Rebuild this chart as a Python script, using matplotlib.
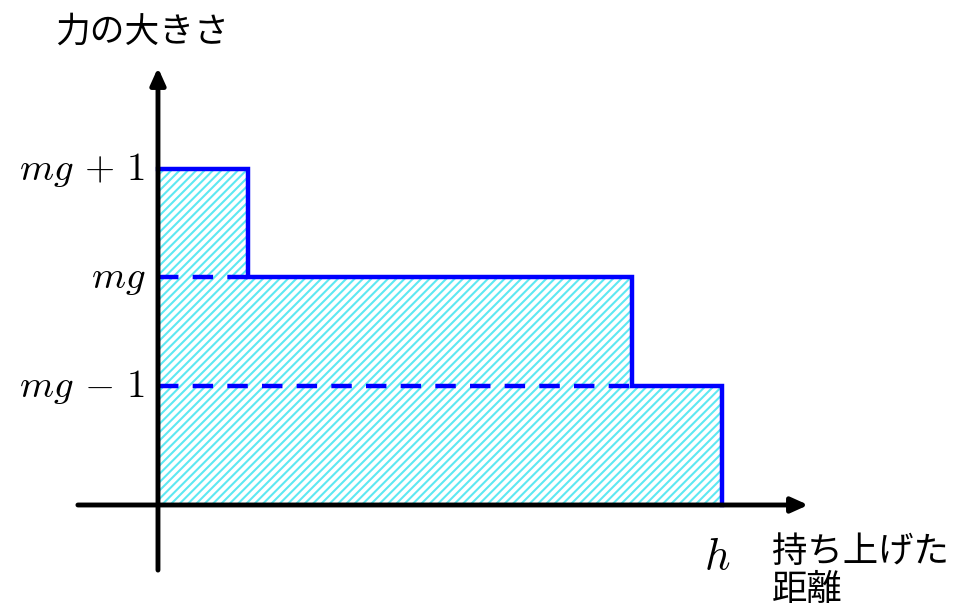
import matplotlib
matplotlib.use("Agg")
import matplotlib.pyplot as plt

plt.rcParams['font.family'] = ['Noto Sans CJK JP', 'DejaVu Sans']
plt.rcParams['mathtext.fontset'] = 'cm'
plt.rcParams['hatch.linewidth'] = 1.5
plt.rcParams['hatch.color'] = '#5ee8f2'

# step boundaries along the distance axis (h = 1)
x_edges = [0.0, 0.16, 0.84, 1.0]
# force levels of each segment (mg = 2.1, step of 1)
force_levels = [3.1, 2.1, 1.1]
level_labels = [r'$mg\,+\,1$', r'$mg$', r'$mg\,-\,1$']
h_value = 1.0

fig = plt.figure(figsize=(9.6, 6.14), dpi=100)
ax = fig.add_axes([0, 0, 1, 1])
ax.set_xlim(-0.2801, 1.4220)
ax.set_ylim(-1.0046, 4.654)
ax.axis('off')

# hatched area under the step curve
for i, lvl in enumerate(force_levels):
    ax.fill_between([x_edges[i], x_edges[i + 1]], 0, lvl,
                    facecolor='white', edgecolor='#5ee8f2', hatch='////',
                    linewidth=0, zorder=1)

# step outline
xs = [x_edges[0]]
ys = [force_levels[0]]
for i, lvl in enumerate(force_levels):
    xs += [x_edges[i + 1]]
    ys += [lvl]
    if i + 1 < len(force_levels):
        xs += [x_edges[i + 1]]
        ys += [force_levels[i + 1]]
xs += [x_edges[-1]]
ys += [0]
ax.plot(xs, ys, color='#0000ff', lw=3.2, solid_joinstyle='miter', zorder=3)

# dashed guides for lower levels
for i, lvl in enumerate(force_levels[1:], start=1):
    ax.plot([0, x_edges[i]], [lvl, lvl], color='#0000ff', lw=3.2,
            dashes=(4.6, 3.2), zorder=3)

# axes arrows
ax.annotate('', xy=(1.153, 0), xytext=(-0.142, 0),
            arrowprops=dict(arrowstyle='-|>,head_length=1.0,head_width=0.45',
                            color='black', lw=3.5, shrinkA=0, shrinkB=0),
            zorder=4)
ax.annotate('', xy=(0, 4.03), xytext=(0, -0.6),
            arrowprops=dict(arrowstyle='-|>,head_length=1.0,head_width=0.45',
                            color='black', lw=3.5, shrinkA=0, shrinkB=0),
            zorder=4)

# level labels
for lbl, lvl in zip(level_labels, force_levels):
    ax.text(-0.022, lvl, lbl, ha='right', va='center', fontsize=28)

ax.text(h_value - 0.008, -0.47, r'$h$', ha='center', va='center', fontsize=32)
ax.text(-0.028, 4.36, '力の大きさ', ha='center', va='center', fontsize=25)
ax.text(1.088, -0.43, '持ち上げた', ha='left', va='center', fontsize=25.5)
ax.text(1.088, -0.78, '距離', ha='left', va='center', fontsize=25.5)

fig.savefig('out.png', dpi=100)
